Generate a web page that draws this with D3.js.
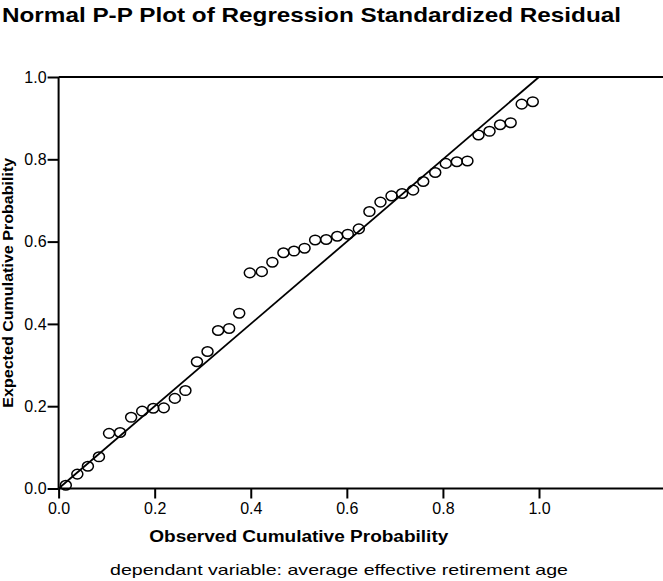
<!DOCTYPE html>
<html><head><meta charset="utf-8">
<script src="https://cdn.jsdelivr.net/npm/d3@7"></script>
<style>body{margin:0;background:#fff;}svg{display:block;font-family:"Liberation Sans",Arial,sans-serif;}</style>
</head><body><svg id="c" width="663" height="581"></svg>
<script>
const observed = [0.015,0.039,0.061,0.084,0.105,0.128,0.151,0.174,0.197,0.219,0.242,0.264,0.288,0.310,0.332,0.355,0.376,0.398,0.423,0.445,0.468,0.490,0.512,0.534,0.557,0.580,0.602,0.625,0.647,0.670,0.693,0.715,0.738,0.759,0.784,0.806,0.829,0.851,0.874,0.897,0.919,0.941,0.964,0.987];
const expected = [0.008,0.035,0.054,0.077,0.134,0.136,0.173,0.188,0.195,0.196,0.219,0.238,0.308,0.333,0.384,0.389,0.426,0.524,0.527,0.550,0.573,0.577,0.584,0.604,0.605,0.613,0.618,0.631,0.673,0.696,0.711,0.717,0.725,0.746,0.768,0.790,0.794,0.796,0.859,0.868,0.884,0.889,0.934,0.940];
const tickValues = [0,0.2,0.4,0.6,0.8,1.0];
const refLine = [[0,0],[1,1]];

const svg = d3.select("#c");
const x = d3.scaleLinear().domain([0,1]).range([58.6,539]);
const y = d3.scaleLinear().domain([0,1]).range([488.5,77]);
const rightEdge = 663;

// title
svg.append("text").attr("x",2).attr("y",22).attr("font-size",21).attr("font-weight","bold")
  .attr("textLength",619).attr("lengthAdjust","spacingAndGlyphs")
  .text("Normal P-P Plot of Regression Standardized Residual");

// top frame line
svg.append("line").attr("x1",x(0)).attr("x2",rightEdge).attr("y1",y(1)).attr("y2",y(1)).attr("stroke","#000").attr("stroke-width",2);

// axes
const xAxis = d3.axisBottom(x).tickValues(tickValues).tickFormat(d3.format(".1f")).tickSize(10).tickSizeOuter(0);
const gx = svg.append("g").attr("transform",`translate(0,${y(0)})`).call(xAxis);
gx.select(".domain").remove();
gx.append("line").attr("x1",x(0)).attr("x2",rightEdge).attr("stroke","#000").attr("stroke-width",2);
gx.selectAll(".tick line").attr("stroke","#000").attr("stroke-width",2);
gx.selectAll(".tick text").attr("font-size",16).attr("fill","#000").attr("y",14).attr("font-family","Liberation Sans, Arial, sans-serif");

const yAxis = d3.axisLeft(y).tickValues(tickValues).tickFormat(d3.format(".1f")).tickSize(11).tickSizeOuter(0);
const gy = svg.append("g").attr("transform",`translate(${x(0)},0)`).call(yAxis);
gy.select(".domain").remove();
gy.append("line").attr("y1",y(0)).attr("y2",y(1)).attr("stroke","#000").attr("stroke-width",2);
gy.selectAll(".tick line").attr("stroke","#000").attr("stroke-width",2);
gy.selectAll(".tick text").attr("font-size",16).attr("fill","#000").attr("x",-12).attr("font-family","Liberation Sans, Arial, sans-serif");

// reference line
svg.append("path").datum(refLine)
  .attr("d",d3.line().x(d=>x(d[0])).y(d=>y(d[1])))
  .attr("stroke","#000").attr("stroke-width",1.8).attr("fill","none");

// points
svg.append("g").selectAll("ellipse").data(observed.map((o,i)=>[o,expected[i]])).join("ellipse")
  .attr("cx",d=>x(d[0])).attr("cy",d=>y(d[1])).attr("rx",5.5).attr("ry",4.8)
  .attr("fill","none").attr("stroke","#000").attr("stroke-width",1.5);

// axis titles
svg.append("text").attr("x",x(0.5)).attr("y",542).attr("text-anchor","middle")
  .attr("font-size",16).attr("font-weight","bold").attr("textLength",299).attr("lengthAdjust","spacingAndGlyphs")
  .text("Observed Cumulative Probability");
svg.append("text").attr("transform",`translate(13,${(y(0)+y(1))/2}) rotate(-90)`).attr("text-anchor","middle")
  .attr("font-size",15).attr("font-weight","bold").attr("textLength",250).attr("lengthAdjust","spacingAndGlyphs")
  .text("Expected Cumulative Probability");

// footer
svg.append("text").attr("x",339).attr("y",575).attr("text-anchor","middle")
  .attr("font-size",15).attr("textLength",458).attr("lengthAdjust","spacingAndGlyphs")
  .text("dependant variable: average effective retirement age");
</script></body></html>
